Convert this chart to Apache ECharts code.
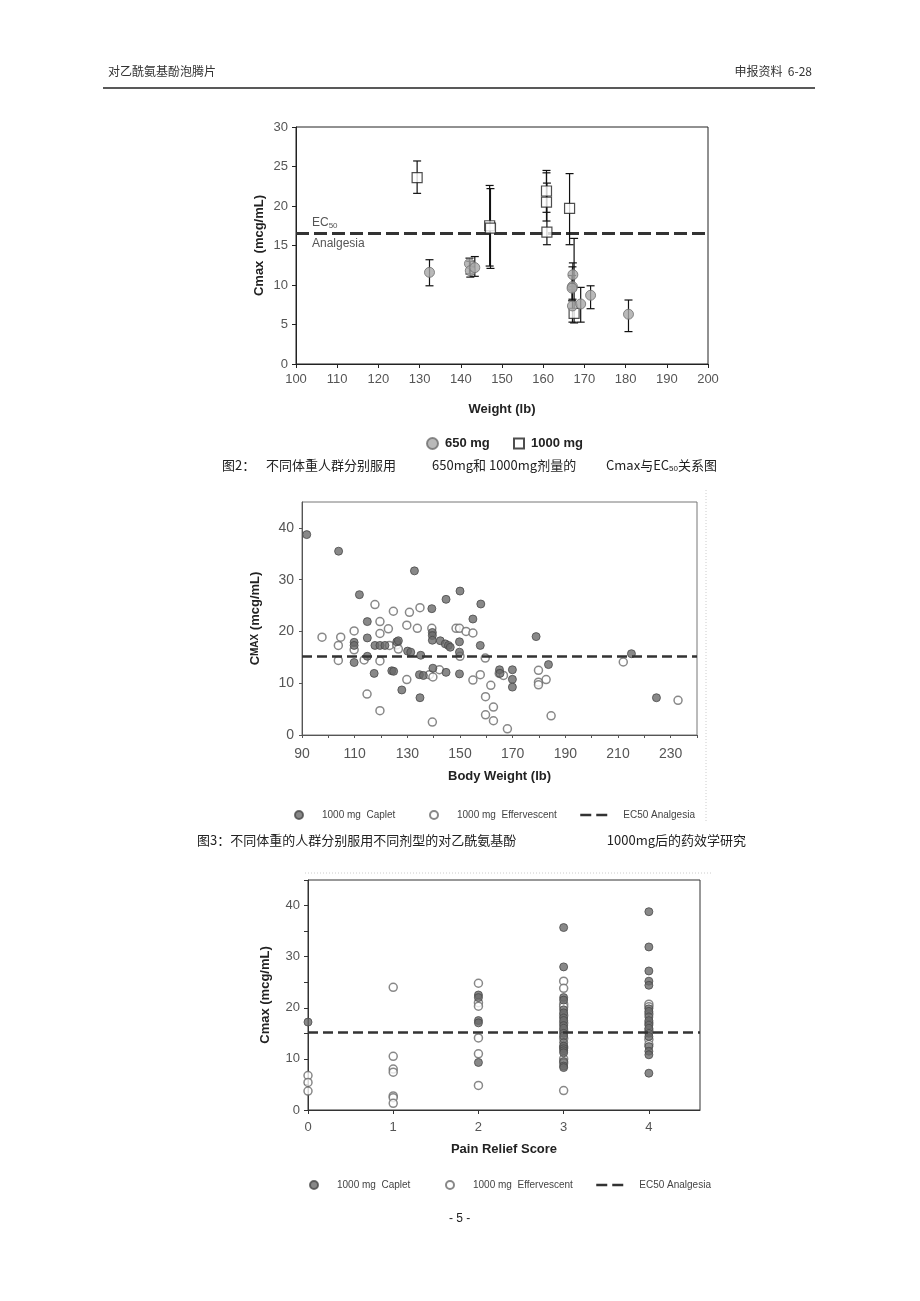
<!DOCTYPE html>
<html>
<head>
<meta charset="utf-8">
<script src="https://cdn.jsdelivr.net/npm/echarts@6/dist/echarts.min.js"></script>
<style>
  html, body { margin: 0; padding: 0; background: #fff; }
  #page { width: 920px; height: 1301px; }
</style>
</head>
<body>
<div id="page"></div>
<script>
// ---- figure 2: Cmax vs weight, 650 mg / 1000 mg (mean with error bars)
const wt650 = [132.4, 142.1, 142.3, 143.4, 167.2, 167.1, 167.0, 167.1, 169.1, 171.5, 180.7]
const cmax650 = [11.6, 12.7, 11.8, 12.2, 11.3, 9.8, 9.6, 7.35, 7.6, 8.7, 6.3]
const lo650 = [9.9, 11.4, 11.0, 11.1, 9.8, 8.2, 8.0, 5.3, 5.3, 7.0, 4.1]
const hi650 = [13.2, 13.4, 13.0, 13.6, 12.8, 12.3, 11.2, 9.4, 9.7, 9.9, 8.1]

const wt1000 = [129.4, 147.0, 147.2, 160.8, 160.8, 160.9, 166.4, 167.5]
const cmax1000 = [23.6, 17.5, 17.2, 21.9, 20.5, 16.7, 19.7, 6.4]
const lo1000 = [21.6, 12.4, 12.1, 19.2, 18.1, 15.1, 15.1, 5.2]
const hi1000 = [25.7, 22.6, 22.2, 24.5, 24.2, 22.9, 24.1, 15.9]

const ec50Fig2 = 16.5

// ---- figure 3: Cmax vs body weight, caplet / effervescent
const bwCaplet = [91.8, 103.9, 132.7, 111.8, 150.0, 144.7, 157.9, 139.3, 154.9, 114.8,
  139.5, 139.5, 139.5, 178.9, 114.8, 109.8, 109.8, 149.8, 126.0, 126.6,
  142.5, 144.4, 145.6, 146.3, 157.7, 117.7, 119.6, 121.5, 130.1, 131.3,
  149.8, 114.8, 135.1, 215.1, 109.8, 139.7, 183.6, 165.0, 169.9, 124.1,
  124.8, 144.7, 149.8, 117.4, 134.6, 136.1, 169.9, 169.9, 127.9, 134.8,
  224.6, 165.2]
const cmaxCaplet = [38.7, 35.5, 31.7, 27.1, 27.8, 26.2, 25.3, 24.4, 22.4, 21.9,
  19.8, 19.2, 18.3, 19.0, 18.75, 17.9, 17.3, 18.0, 18.0, 18.2,
  18.2, 17.6, 17.3, 16.95, 17.3, 17.3, 17.3, 17.3, 16.2, 16.0,
  16.0, 15.2, 15.4, 15.7, 14.0, 12.9, 13.6, 12.6, 12.6, 12.4,
  12.3, 12.1, 11.8, 11.9, 11.65, 11.5, 10.75, 9.25, 8.7, 7.2,
  7.2, 11.9]

const bwEff = [97.6, 104.7, 103.8, 103.8, 109.8, 109.8, 113.6, 114.7, 117.7, 119.6,
  119.6, 119.6, 119.6, 122.8, 123.2, 124.7, 126.0, 126.6, 129.8, 130.8,
  129.8, 133.8, 134.8, 138.4, 139.3, 139.7, 139.5, 142.2, 148.5, 149.8,
  152.3, 154.9, 150.0, 154.9, 157.7, 159.6, 159.7, 159.7, 161.7, 162.7,
  162.7, 164.9, 166.5, 168.0, 179.8, 179.8, 179.8, 182.7, 184.6, 212.0,
  232.8]
const cmaxEff = [18.9, 18.9, 17.3, 14.4, 20.1, 16.45, 14.5, 7.9, 25.2, 21.9,
  19.6, 14.3, 4.7, 20.5, 17.3, 23.9, 17.4, 16.6, 21.2, 23.7,
  10.7, 20.6, 24.6, 11.65, 20.6, 11.2, 2.5, 12.6, 20.6, 20.6,
  20.0, 19.7, 15.2, 10.6, 11.65, 14.85, 7.4, 3.9, 9.6, 5.4,
  2.75, 11.9, 11.5, 1.2, 12.5, 10.2, 9.7, 10.7, 3.7, 14.1,
  6.7]

const ec50Fig3 = 15.2

// ---- pain relief score chart
const scoreCaplet = [0, 2, 2, 2, 2, 2,
  3, 3, 3, 3, 3, 3, 3, 3, 3, 3, 3, 3, 3, 3, 3, 3, 3, 3, 3, 3,
  4, 4, 4, 4, 4, 4, 4, 4, 4, 4, 4, 4, 4, 4, 4, 4, 4]
const painCmaxCaplet = [17.2, 22.5, 22.0, 17.5, 17.05, 9.3,
  35.7, 28.0, 22.0, 21.5, 19.6, 19.0, 18.0, 17.5, 16.5, 16.0, 15.0, 14.5, 13.2, 12.5, 12.0, 11.6, 11.2, 9.5, 8.6, 8.3,
  38.8, 31.9, 27.2, 25.2, 24.4, 19.8, 19.3, 18.2, 17.5, 16.6, 16.0, 15.0, 14.4, 12.4, 11.5, 10.8, 7.2]
const scoreEff = [0, 0, 0,
  1, 1, 1, 1, 1, 1, 1,
  2, 2, 2, 2, 2, 2,
  3, 3, 3, 3, 3, 3, 3, 3, 3, 3, 3, 3,
  4, 4, 4, 4, 4, 4, 4]
const painCmaxEff = [6.75, 5.4, 3.7,
  24.0, 10.5, 8.0, 7.4, 2.75, 2.4, 1.3,
  24.8, 21.0, 20.3, 14.1, 11.0, 4.8,
  25.2, 23.8, 20.7, 20.2, 18.5, 17.0, 15.5, 14.0, 12.3, 10.0, 9.2, 3.8,
  20.7, 20.2, 18.8, 17.0, 15.6, 13.8, 12.8]

const zip = (xs, ys) => xs.map((x, i) => [x, ys[i]])
const zipErr = (xs, ys, lo, hi) => xs.map((x, i) => [x, ys[i], lo[i], hi[i]])

const LAT = 'Liberation Sans, Arial, sans-serif'
const CJK = '"Noto Sans CJK SC", sans-serif'

function errorBar(params, api) {
  const x = api.value(0)
  const p0 = api.coord([x, api.value(2)])
  const p1 = api.coord([x, api.value(3)])
  const cap = 4
  const st = { stroke: '#111', lineWidth: 1.2 }
  return {
    type: 'group',
    children: [
      { type: 'line', shape: { x1: p0[0], y1: p0[1], x2: p1[0], y2: p1[1] }, style: st },
      { type: 'line', shape: { x1: p0[0] - cap, y1: p0[1], x2: p0[0] + cap, y2: p0[1] }, style: st },
      { type: 'line', shape: { x1: p1[0] - cap, y1: p1[1], x2: p1[0] + cap, y2: p1[1] }, style: st }
    ]
  }
}

const tickLabel = { color: '#555', fontSize: 12, fontFamily: LAT }
const axisName = { color: '#222', fontSize: 13, fontWeight: 'bold', fontFamily: LAT }

const caplet = { color: '#6a6a6a', borderColor: '#4a4a4a', borderWidth: 1 }
const efferv = { color: '#fff', borderColor: '#6a6a6a', borderWidth: 1.5 }
const ecLine = { color: '#333', width: 2.5, type: [10, 5] }

const smallLegend = { fontSize: 10, color: '#444', fontFamily: LAT }
const ecLegend = { itemWidth: 28, itemHeight: 8, itemStyle: { opacity: 0 }, lineStyle: { color: '#333', width: 2.5, type: [11, 5] } }

const chart = echarts.init(document.getElementById('page'), null, { renderer: 'canvas' })

const option = {
  backgroundColor: '#fff',
  animation: false,
  textStyle: { fontFamily: LAT },
  grid: [
    { left: 296, top: 127, width: 412, height: 237, show: true, borderColor: '#222', borderWidth: 1 },
    { left: 302, top: 502, width: 395, height: 233, show: true, borderColor: '#777', borderWidth: 1 },
    { left: 308, top: 880, width: 392, height: 230, show: true, borderColor: '#333', borderWidth: 1 }
  ],
  xAxis: [
    {
      gridIndex: 0, type: 'value', min: 100, max: 200, interval: 10,
      name: 'Weight (lb)', nameLocation: 'middle', nameGap: 39, nameTextStyle: axisName,
      axisLine: { lineStyle: { color: '#222' } },
      axisTick: { show: true, length: 4, lineStyle: { color: '#222' } },
      axisLabel: Object.assign({ margin: 9 }, tickLabel, { fontSize: 13 }),
      splitLine: { show: false }
    },
    {
      gridIndex: 1, type: 'value', min: 90, max: 240, interval: 10,
      name: 'Body Weight (lb)', nameLocation: 'middle', nameGap: 35, nameTextStyle: axisName,
      axisLine: { lineStyle: { color: '#555' } },
      axisTick: { show: true, length: 3, lineStyle: { color: '#555' } },
      axisLabel: Object.assign({ margin: 12, formatter: v => ((v - 90) % 20 === 0 ? String(v) : '') }, tickLabel, { fontSize: 14 }),
      splitLine: { show: false }
    },
    {
      gridIndex: 2, type: 'value', min: 0, max: 4.6, interval: 1,
      name: 'Pain Relief Score', nameLocation: 'middle', nameGap: 33, nameTextStyle: axisName,
      axisLine: { lineStyle: { color: '#333' } },
      axisTick: { show: true, length: 4, lineStyle: { color: '#333' } },
      axisLabel: Object.assign({ margin: 11, showMaxLabel: false }, tickLabel, { fontSize: 13 }),
      splitLine: { show: false }
    }
  ],
  yAxis: [
    {
      gridIndex: 0, type: 'value', min: 0, max: 30, interval: 5,
      name: 'Cmax  (mcg/mL)', nameLocation: 'middle', nameGap: 30, nameTextStyle: axisName,
      axisLine: { show: true, lineStyle: { color: '#222' } },
      axisTick: { show: true, length: 4, lineStyle: { color: '#222' } },
      axisLabel: Object.assign({ margin: 8 }, tickLabel, { fontSize: 13 }),
      splitLine: { show: false }
    },
    {
      gridIndex: 1, type: 'value', min: 0, max: 45, interval: 10,
      name: 'C{sc|MAX} (mcg/mL)', nameLocation: 'middle', nameGap: 40,
      nameTextStyle: Object.assign({ rich: { sc: { fontSize: 10, fontWeight: 'bold', color: '#222', fontFamily: LAT } } }, axisName),
      axisLine: { show: true, lineStyle: { color: '#555' } },
      axisTick: { show: true, length: 3, lineStyle: { color: '#555' } },
      axisLabel: Object.assign({ margin: 8, showMaxLabel: false }, tickLabel, { fontSize: 14 }),
      splitLine: { show: false }
    },
    {
      gridIndex: 2, type: 'value', min: 0, max: 45, interval: 5,
      name: 'Cmax (mcg/mL)', nameLocation: 'middle', nameGap: 36, nameTextStyle: axisName,
      axisLine: { show: true, lineStyle: { color: '#333' } },
      axisTick: { show: true, length: 4, lineStyle: { color: '#333' } },
      axisLabel: Object.assign({ margin: 8, formatter: v => (v % 10 === 0 ? String(v) : '') }, tickLabel, { fontSize: 13 }),
      splitLine: { show: false }
    }
  ],
  legend: [
    { data: ['650 mg'], left: 421, top: 432, itemWidth: 11, itemHeight: 11, textStyle: { fontSize: 13, fontWeight: 'bold', color: '#222', padding: [0, 0, 0, 2] } },
    { data: ['1000 mg'], left: 508, top: 432, itemWidth: 10, itemHeight: 10, textStyle: { fontSize: 13, fontWeight: 'bold', color: '#222', padding: [0, 0, 0, 2] } },
    { data: ['1000 mg  Caplet'], left: 289, top: 805, itemWidth: 8, itemHeight: 8, textStyle: Object.assign({ padding: [0, 0, 0, 14] }, smallLegend) },
    { data: ['1000 mg  Effervescent'], left: 424, top: 805, itemWidth: 8, itemHeight: 8, textStyle: Object.assign({ padding: [0, 0, 0, 14] }, smallLegend) },
    Object.assign({ data: ['EC50 Analgesia'], left: 574, top: 805, textStyle: Object.assign({ padding: [0, 0, 0, 10] }, smallLegend) }, ecLegend),
    { data: ['1000 mg  Caplet'], left: 304, top: 1175, itemWidth: 8, itemHeight: 8, textStyle: Object.assign({ padding: [0, 0, 0, 14] }, smallLegend) },
    { data: ['1000 mg  Effervescent'], left: 440, top: 1175, itemWidth: 8, itemHeight: 8, textStyle: Object.assign({ padding: [0, 0, 0, 14] }, smallLegend) },
    Object.assign({ data: ['EC50 Analgesia'], left: 590, top: 1175, textStyle: Object.assign({ padding: [0, 0, 0, 10] }, smallLegend) }, ecLegend)
  ],
  series: [
    // figure 2
    {
      type: 'custom', name: 'err650', xAxisIndex: 0, yAxisIndex: 0, z: 2,
      renderItem: errorBar, encode: { x: 0, y: [2, 3] },
      data: zipErr(wt650, cmax650, lo650, hi650)
    },
    {
      type: 'custom', name: 'err1000', xAxisIndex: 0, yAxisIndex: 0, z: 2,
      renderItem: errorBar, encode: { x: 0, y: [2, 3] },
      data: zipErr(wt1000, cmax1000, lo1000, hi1000)
    },
    {
      type: 'scatter', name: '1000 mg', xAxisIndex: 0, yAxisIndex: 0, z: 3,
      symbol: 'rect', symbolSize: 10,
      itemStyle: { color: '#fff', borderColor: '#222', borderWidth: 1.2 },
      data: zip(wt1000, cmax1000),
      markLine: {
        silent: true, symbol: ['none', 'none'], z: 1,
        lineStyle: { color: '#333', width: 3, type: [13, 5] },
        data: [
          {
            yAxis: ec50Fig2,
            label: {
              position: 'insideStartTop', distance: [16, 4], formatter: 'EC{s|50}',
              color: '#555', fontSize: 12, fontFamily: LAT,
              rich: { s: { fontSize: 8, verticalAlign: 'bottom', color: '#555', fontFamily: LAT, padding: [6, 0, 0, 0] } }
            }
          }
        ]
      }
    },
    {
      type: 'scatter', name: '650 mg', xAxisIndex: 0, yAxisIndex: 0, z: 4,
      symbol: 'circle', symbolSize: 10,
      itemStyle: { color: '#a8a8a8', borderColor: '#6e6e6e', borderWidth: 1 },
      data: zip(wt650, cmax650),
      markLine: {
        silent: true, symbol: ['none', 'none'], z: 1,
        lineStyle: { color: 'rgba(0,0,0,0)', width: 1 },
        data: [
          {
            yAxis: ec50Fig2,
            label: { position: 'insideStartBottom', distance: [16, 4], formatter: 'Analgesia', color: '#555', fontSize: 12, fontFamily: LAT }
          }
        ]
      }
    },
    // figure 3
    {
      type: 'line', name: 'EC50 Analgesia', xAxisIndex: 1, yAxisIndex: 1, data: [],
      symbol: 'none', lineStyle: ecLine, itemStyle: { color: '#333' },
      markLine: { silent: true, symbol: ['none', 'none'], lineStyle: ecLine, label: { show: false }, data: [{ yAxis: ec50Fig3 }] }
    },
    {
      type: 'scatter', name: '1000 mg  Effervescent', xAxisIndex: 1, yAxisIndex: 1,
      symbolSize: 8, itemStyle: efferv, data: zip(bwEff, cmaxEff)
    },
    {
      type: 'scatter', name: '1000 mg  Caplet', xAxisIndex: 1, yAxisIndex: 1,
      symbolSize: 8, itemStyle: caplet, data: zip(bwCaplet, cmaxCaplet)
    },
    // pain relief score
    {
      type: 'line', name: 'EC50 Analgesia', xAxisIndex: 2, yAxisIndex: 2, data: [],
      symbol: 'none', lineStyle: ecLine, itemStyle: { color: '#333' },
      markLine: { silent: true, symbol: ['none', 'none'], lineStyle: ecLine, label: { show: false }, data: [{ yAxis: ec50Fig3 }] }
    },
    {
      type: 'scatter', name: '1000 mg  Effervescent', xAxisIndex: 2, yAxisIndex: 2,
      symbolSize: 8, itemStyle: efferv, data: zip(scoreEff, painCmaxEff)
    },
    {
      type: 'scatter', name: '1000 mg  Caplet', xAxisIndex: 2, yAxisIndex: 2,
      symbolSize: 8, itemStyle: caplet, data: zip(scoreCaplet, painCmaxCaplet)
    }
  ],
  graphic: [
    // page header
    { type: 'text', left: 108, top: 65, style: { text: '对乙酰氨基酚泡腾片', fontSize: 12, fontFamily: CJK, fill: '#333' } },
    { type: 'text', right: 108, top: 65, style: { text: '申报资料  6-28', fontSize: 12, fontFamily: CJK, fill: '#333' } },
    { type: 'line', shape: { x1: 103, y1: 88, x2: 815, y2: 88 }, style: { stroke: '#222', lineWidth: 1.5 } },
    // captions
    { type: 'text', left: 222, top: 459, style: { text: '图2：', fontSize: 13, fontFamily: CJK, fill: '#222' } },
    { type: 'text', left: 266, top: 459, style: { text: '不同体重人群分别服用', fontSize: 13, fontFamily: CJK, fill: '#222' } },
    { type: 'text', left: 432, top: 459, style: { text: '650mg和 1000mg剂量的', fontSize: 13, fontFamily: CJK, fill: '#222' } },
    {
      type: 'text', left: 606, top: 459,
      style: {
        text: 'Cmax与EC{s|50}关系图', fontSize: 13, fontFamily: CJK, fill: '#222',
        rich: { s: { fontSize: 8, fontFamily: LAT, verticalAlign: 'bottom', padding: [7, 0, 0, 0] } }
      }
    },
    { type: 'text', left: 197, top: 834, style: { text: '图3：不同体重的人群分别服用不同剂型的对乙酰氨基酚', fontSize: 13, fontFamily: CJK, fill: '#222' } },
    { type: 'text', right: 174, top: 834, style: { text: '1000mg后的药效学研究', fontSize: 13, fontFamily: CJK, fill: '#222' } },
    // light frame remnants from the scanned figures
    { type: 'line', shape: { x1: 706, y1: 490, x2: 706, y2: 822 }, style: { stroke: '#ccc', lineWidth: 1, lineDash: [1, 2] } },
    { type: 'line', shape: { x1: 305, y1: 873, x2: 712, y2: 873 }, style: { stroke: '#ccc', lineWidth: 1, lineDash: [1, 2] } },
    // page number
    { type: 'text', left: 449, top: 1213, style: { text: '- 5 -', fontSize: 12, fontFamily: LAT, fill: '#222' } }
  ]
}

chart.setOption(option)
</script>
</body>
</html>
